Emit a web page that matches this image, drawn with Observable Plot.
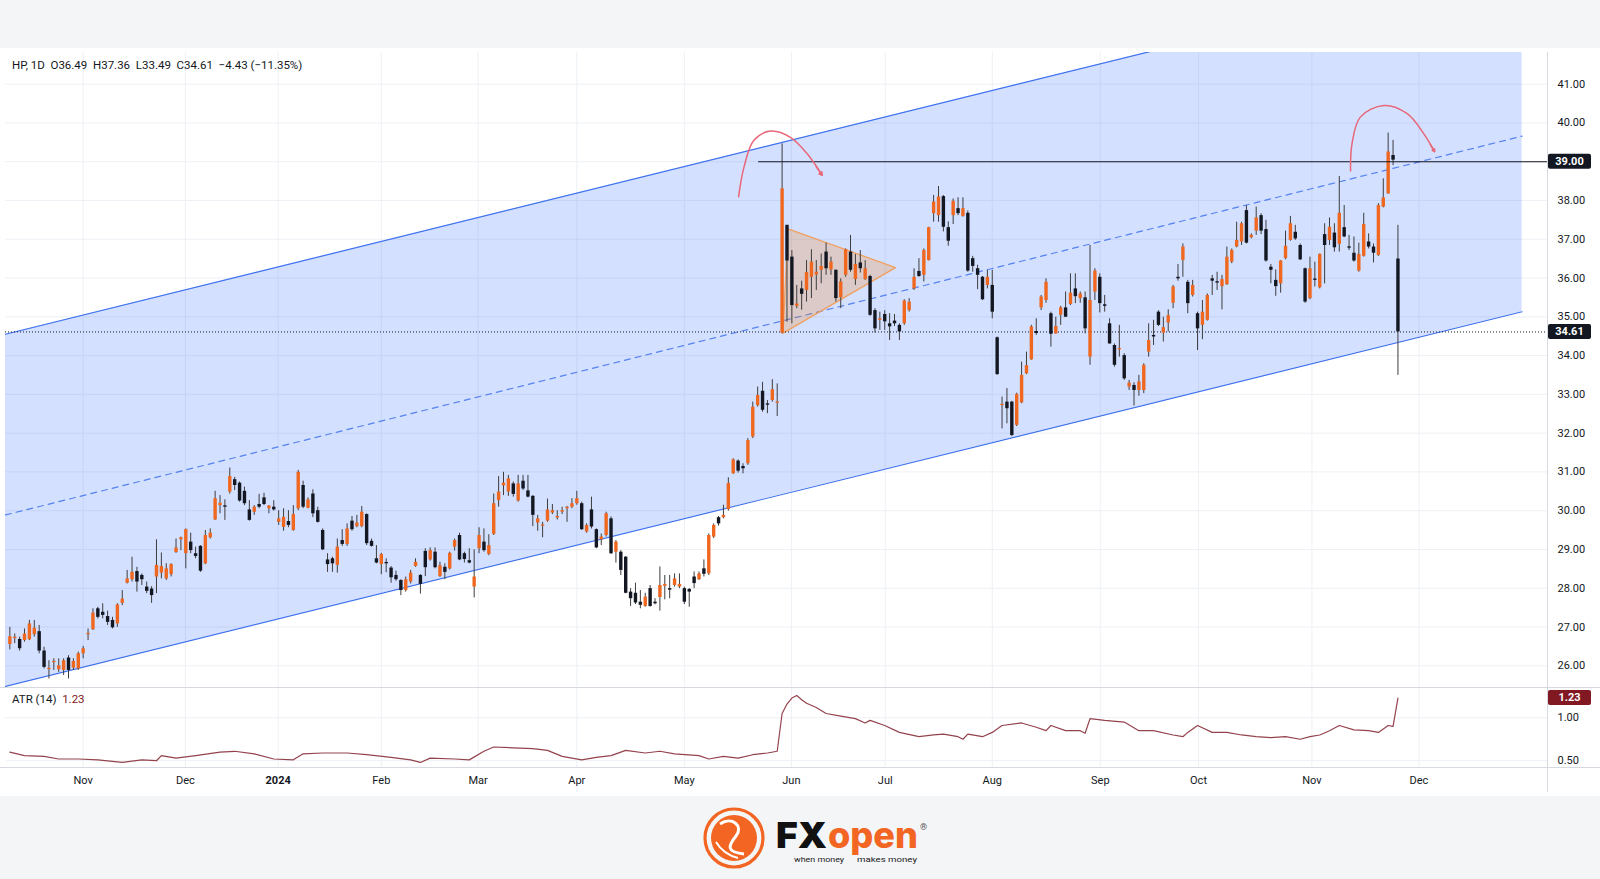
<!DOCTYPE html>
<html>
<head>
<meta charset="utf-8">
<script src="https://cdn.jsdelivr.net/npm/d3@7"></script>
<script src="https://cdn.jsdelivr.net/npm/@observablehq/plot@0.6"></script>
<style>
  html, body { margin: 0; padding: 0; }
  body { width: 1600px; height: 879px; background: #f4f5f7; font-family: Roboto, "Liberation Sans", sans-serif; overflow: hidden; position: relative; }
  #chart { position: absolute; left: 0; top: 48px; width: 1600px; height: 748px; background: #ffffff; }
  #main { position: absolute; left: 0; top: 4px; }
  #atr { position: absolute; left: 0; top: 639px; }
  .hline { position: absolute; height: 1px; background: #d6d9e0; }
  .vline { position: absolute; width: 1px; background: #d6d9e0; }
  #legend { position: absolute; left: 12px; top: 10px; font-size: 11.5px; color: #131722; white-space: pre; }
  #atrlegend { position: absolute; left: 12px; top: 644px; font-size: 11.5px; color: #131722; white-space: pre; }
  #logo { position: absolute; left: 0; top: 796px; width: 1600px; height: 83px; }
</style>
</head>
<body>
<div id="chart">
  <div id="main"></div>
  <div id="atr"></div>
  <div class="hline" style="left:0;top:639px;width:1600px"></div>
  <div class="hline" style="left:0;top:719px;width:1600px"></div>
  <div class="vline" style="left:1547px;top:4px;height:740px"></div>
  <div id="legend"></div>
  <div id="atrlegend"></div>
</div>
<svg id="logo" viewBox="0 796 1600 83"></svg>
<script>
// ---------------- DATA ----------------
const symbolInfo = "HP, 1D";
const headerValues = ["O36.49", "H37.36", "L33.49", "C34.61", "\u22124.43 (\u221211.35%)"];
const firstBar = 2; // bar index of the first candle

const open = [
26.55,26.70,26.68,26.65,26.67,26.80,26.88,26.38,25.90,26.08,
25.90,25.88,26.20,25.94,25.92,26.31,26.80,26.93,27.47,27.38,
27.27,27.17,27.08,27.61,28.13,28.22,28.43,28.33,28.03,27.98,
28.29,28.39,28.24,28.35,28.92,29.25,28.89,29.19,28.89,29.08,
28.63,29.30,29.76,30.13,30.11,30.48,30.80,30.71,30.50,30.02,
29.96,30.16,30.33,30.05,30.09,29.70,29.57,29.72,29.49,30.05,
30.65,30.06,30.43,30.00,29.49,28.73,28.76,28.59,29.23,29.13,
29.73,29.59,29.59,29.90,29.21,28.76,28.61,28.65,28.52,28.33,
28.20,27.94,28.16,28.56,28.33,28.95,28.73,28.93,28.30,28.54,
28.50,29.06,29.36,28.89,28.71,28.03,29.02,29.19,28.87,29.39,
30.26,30.64,30.48,30.69,30.25,30.76,30.51,30.37,29.68,29.60,
29.73,29.94,29.81,29.96,30.05,30.09,30.18,30.18,29.45,30.02,
29.51,29.25,29.36,29.79,28.93,28.93,28.80,27.90,27.87,27.64,
27.53,27.99,27.64,27.76,28.05,27.99,28.07,28.03,27.99,27.97,
28.29,28.22,28.50,28.37,29.32,29.82,29.82,30.03,30.95,31.28,
31.14,31.21,31.90,32.71,33.08,32.75,32.84,32.77,34.58,37.36,
36.54,35.27,35.72,35.68,36.02,36.08,36.20,36.67,36.21,36.20,
35.49,36.07,36.67,35.96,36.39,35.96,36.04,35.16,34.91,35.06,
34.82,34.89,34.78,34.82,35.16,35.72,36.17,36.07,36.45,37.66,
37.61,38.10,37.30,37.61,37.79,37.59,37.67,36.50,36.24,36.02,
35.81,35.81,34.46,32.71,32.80,32.80,32.20,32.78,33.53,33.89,
34.62,35.23,35.42,35.08,34.56,35.04,35.23,35.32,35.72,35.47,
35.49,33.96,35.64,36.02,35.31,34.82,34.26,34.15,34.00,33.19,
33.23,33.10,33.10,34.09,34.52,35.12,34.58,34.84,35.35,36.02,
36.45,35.89,35.55,35.08,34.78,34.91,35.98,35.90,35.78,35.83,
36.41,36.80,36.93,37.74,37.04,37.21,37.61,37.25,36.28,35.94,
35.85,36.50,36.97,37.18,36.84,36.24,35.47,35.96,35.75,37.12,
36.97,37.16,36.87,37.30,36.80,36.64,36.18,36.56,36.93,36.80,
36.58,37.83,38.17,39.16,36.49];

const high = [
26.99,26.82,26.74,26.95,27.17,27.17,27.04,26.48,26.13,26.18,
26.18,26.18,26.26,26.18,26.35,26.50,26.95,27.47,27.51,27.60,
27.41,27.25,27.60,27.94,28.46,28.80,28.54,28.37,28.16,28.04,
29.25,28.91,28.63,28.63,29.27,29.32,29.53,29.42,29.06,29.10,
29.49,29.53,30.50,30.39,30.28,31.10,30.86,30.74,30.61,30.26,
30.13,30.42,30.45,30.13,30.26,30.00,30.05,30.00,30.13,31.04,
30.76,30.33,30.54,30.09,29.53,28.89,28.80,29.27,29.51,29.66,
29.85,29.88,30.11,29.92,29.27,29.10,28.90,28.76,28.56,28.44,
28.22,28.29,28.46,28.76,28.35,29.02,29.04,29.04,28.67,28.63,
28.93,29.27,29.42,28.93,29.02,28.99,29.56,29.53,29.38,30.43,
30.88,30.99,30.91,30.74,30.91,30.91,30.91,30.39,29.88,29.70,
30.30,30.16,30.00,30.09,30.11,30.31,30.50,30.22,29.66,30.35,
29.53,29.40,29.96,29.84,29.23,28.97,28.82,27.99,28.13,27.94,
27.87,28.07,27.73,28.55,28.33,28.33,28.37,28.37,28.03,27.99,
28.42,28.42,28.73,29.40,29.66,29.85,30.14,30.85,31.34,31.31,
31.21,31.86,32.80,33.19,33.31,32.84,33.38,33.27,39.46,37.36,
36.71,35.81,35.92,36.45,36.73,36.45,36.62,36.90,36.54,36.21,
35.98,36.75,37.10,36.61,36.71,36.45,36.07,35.21,35.12,35.16,
35.08,35.06,34.82,35.44,35.47,36.24,36.50,36.75,37.31,38.13,
38.36,38.13,37.45,38.04,38.07,38.07,37.73,36.56,36.33,36.04,
36.20,36.20,34.48,32.93,33.15,32.82,33.03,33.83,34.09,34.78,
34.95,35.55,35.98,35.12,34.99,35.27,35.64,36.11,36.11,35.64,
35.64,36.84,36.24,36.11,35.55,34.95,34.30,34.78,34.05,33.36,
33.30,33.49,33.79,34.82,34.91,35.16,34.99,35.18,35.81,36.35,
36.88,35.94,35.94,35.12,35.42,35.59,36.07,36.15,36.07,36.80,
36.75,37.44,37.44,37.87,37.14,37.83,37.66,37.49,36.35,36.21,
36.45,37.21,37.59,37.36,36.88,36.26,36.54,36.41,36.62,37.40,
37.55,37.40,38.62,37.87,37.10,37.06,36.90,37.67,37.14,36.88,
37.92,38.56,39.74,39.55,37.36];

const low = [
26.41,26.57,26.38,26.61,26.65,26.74,26.31,25.92,25.66,25.88,
25.83,25.75,25.66,25.88,25.88,26.18,26.65,26.91,27.21,27.21,
27.04,26.95,26.99,27.55,28.11,28.16,27.90,28.07,27.86,27.61,
27.86,28.24,28.20,28.29,28.90,28.97,28.50,28.89,28.76,28.41,
28.61,29.27,29.75,29.92,29.75,30.43,30.52,30.22,30.13,29.73,
29.88,30.05,30.13,29.92,29.99,29.62,29.47,29.56,29.47,30.00,
30.05,30.05,29.82,29.68,28.97,28.41,28.41,28.39,29.08,29.08,
29.47,29.56,29.56,29.10,29.06,28.63,28.35,28.40,28.13,28.18,
27.81,27.90,28.11,28.54,27.85,28.30,28.70,28.50,28.28,28.22,
28.47,28.96,28.71,28.65,28.63,27.75,28.89,28.93,28.84,29.36,
30.09,30.39,30.37,30.35,30.22,30.52,30.33,29.59,29.47,29.30,
29.70,29.90,29.76,29.90,29.70,30.05,30.14,29.49,29.42,29.53,
29.02,29.10,29.32,28.87,28.65,28.33,27.86,27.53,27.58,27.47,
27.51,27.51,27.57,27.41,27.70,27.73,28.03,27.99,27.58,27.51,
27.99,28.20,28.29,28.33,29.28,29.60,29.79,29.99,30.94,30.97,
30.95,31.17,31.86,32.67,32.54,32.50,32.80,32.43,34.56,34.86,
34.82,35.21,35.17,35.38,35.47,35.68,35.85,36.07,36.07,35.38,
35.21,36.02,36.15,35.81,36.13,35.94,35.01,34.58,34.65,34.65,
34.39,34.75,34.39,34.78,35.12,35.68,36.02,35.90,36.44,37.44,
37.44,37.19,36.82,37.38,37.61,37.57,36.15,36.15,35.70,35.42,
35.72,34.95,33.49,32.11,32.24,31.91,32.17,32.76,33.51,33.88,
34.52,35.16,35.35,34.22,34.55,34.78,34.98,35.29,35.34,35.35,
34.56,33.75,35.42,35.10,35.12,34.30,33.70,33.96,33.36,33.10,
32.70,32.95,33.02,33.96,34.26,34.75,34.35,34.61,35.21,35.92,
36.02,35.08,35.51,34.13,34.41,34.89,35.55,35.68,35.18,35.81,
36.37,36.78,36.84,36.88,37.01,37.10,37.12,36.41,35.85,35.53,
35.61,36.47,36.95,36.97,36.45,35.35,35.44,35.77,35.72,35.85,
36.84,36.67,36.67,37.04,36.71,36.41,36.15,36.54,36.75,36.39,
36.56,37.81,38.16,38.90,33.49];

const close = [
26.75,26.73,26.44,26.82,27.08,26.97,26.38,25.96,25.93,26.10,
26.00,26.13,25.88,26.11,26.31,26.44,26.83,27.36,27.25,27.30,
27.12,26.98,27.57,27.72,28.24,28.41,28.16,28.22,27.92,27.81,
28.59,28.56,28.50,28.61,29.04,29.30,29.51,28.97,28.82,28.44,
29.36,29.42,30.31,30.19,30.09,30.88,30.65,30.25,30.18,29.75,
30.09,30.09,30.16,30.12,30.02,29.79,29.83,29.62,29.90,30.99,
30.09,30.28,29.92,29.70,28.99,28.61,28.63,29.06,29.13,29.53,
29.51,29.68,29.96,29.15,29.08,28.65,28.87,28.63,28.27,28.22,
27.94,28.22,28.39,28.67,28.10,28.53,28.97,28.53,28.58,28.41,
28.90,29.23,28.73,28.74,28.65,28.29,29.36,28.97,29.10,30.18,
30.48,30.71,30.82,30.42,30.69,30.56,30.35,29.88,29.79,29.62,
30.02,30.00,29.85,30.00,30.09,30.18,30.31,29.51,29.62,29.58,
29.04,29.32,29.92,28.89,29.19,28.46,27.87,27.73,27.62,27.56,
27.77,27.53,27.60,28.07,28.10,27.95,28.24,28.10,27.64,27.90,
28.12,28.37,28.36,29.36,29.62,29.66,29.88,30.70,31.31,31.02,
31.08,31.81,32.67,32.97,32.59,32.72,33.12,32.78,38.30,36.44,
35.29,35.33,35.58,36.14,36.41,36.15,36.30,36.24,36.41,35.47,
35.90,36.73,36.20,36.35,36.24,36.24,35.04,34.69,34.95,34.87,
34.74,34.82,34.61,35.41,35.38,36.02,36.04,36.71,37.30,37.96,
38.09,37.31,36.95,37.98,37.66,37.79,36.18,36.30,36.07,35.44,
36.02,35.12,33.51,32.74,32.63,31.94,33.00,33.49,33.74,34.74,
34.57,35.51,35.89,34.55,34.75,35.23,34.99,35.61,35.52,35.59,
34.69,35.42,36.18,35.34,35.27,34.30,33.75,34.18,33.40,33.29,
33.10,33.32,33.75,34.39,34.48,34.78,34.72,35.03,35.77,35.98,
36.80,35.34,35.81,34.69,35.12,35.55,35.92,35.87,35.96,36.54,
36.71,36.97,37.40,36.90,37.10,37.55,37.21,36.44,36.20,35.78,
36.44,36.82,37.40,37.01,36.47,35.38,36.24,35.94,36.61,36.84,
37.31,36.78,37.67,37.06,36.77,36.44,36.61,37.38,36.80,36.64,
37.87,38.07,39.25,39.04,34.61];

// ATR(14) readings: bar index and value
const atrBar = [2,5,9,12,16,20,25,29,32,33,36,40,45,48,52,56,60,62,66,71,75,80,84,86,88,93,96,99,101,105,109,112,115,119,122,125,128,132,135,138,143,145,148,151,154,157,159,160,161,162,163,164,165,167,169,172,175,177,178,181,184,188,191,193,196,197,198,201,203,205,209,212,214,215,218,221,222,223,226,230,233,236,240,242,243,245,248,251,254,257,260,263,266,268,270,272,274,277,280,282,284,285,286];
const atrValue = [0.60,0.56,0.55,0.52,0.52,0.51,0.48,0.51,0.50,0.56,0.53,0.56,0.60,0.61,0.58,0.52,0.51,0.58,0.59,0.59,0.57,0.54,0.51,0.48,0.53,0.52,0.51,0.61,0.66,0.65,0.64,0.62,0.55,0.51,0.54,0.56,0.62,0.59,0.61,0.58,0.56,0.52,0.55,0.53,0.57,0.59,0.61,1.05,1.16,1.23,1.26,1.21,1.17,1.12,1.05,1.02,0.99,0.94,0.97,0.91,0.83,0.78,0.80,0.81,0.78,0.75,0.81,0.78,0.83,0.91,0.94,0.89,0.85,0.91,0.85,0.85,0.82,0.99,0.97,0.95,0.85,0.85,0.80,0.78,0.83,0.91,0.83,0.83,0.80,0.78,0.77,0.78,0.75,0.78,0.80,0.85,0.91,0.86,0.85,0.83,0.91,0.90,1.23];
const atrLast = 1.23;

// time axis: bar position of each month label
const monthTickBar = [17, 37.9, 56.9, 78, 97.8, 118, 140, 161.9, 181.1, 203, 225.1, 245.2, 268.4, 290.3];
const monthTickLabel = ["Nov","Dec","2024","Feb","Mar","Apr","May","Jun","Jul","Aug","Sep","Oct","Nov","Dec"];
const priceTicks = [26,27,28,29,30,31,32,33,34,35,36,37,38,39,40,41];
const atrTicks = [0.5, 1.0];

// drawings (bar index, price)
const channelBar = [1.1, 311.4];
const channelLower = [25.47, 35.13];
const channelUpper = [34.55, 44.21];
const channelMid = [29.89, 39.66];
const triangleBar = [160.2, 161.2, 183.2, 160.2];
const trianglePrice = [34.58, 37.27, 36.27, 34.58];
// curved hand-drawn arrows: path points per arrow
const arrowId    = [1, 1, 1, 1, 1, 1, 1, 2, 2, 2, 2, 2, 2, 2];
const arrowBar   = [151.1, 152.2, 154.2, 157.6, 161.7, 165.1, 168.2, 276.3, 276.6, 278.3, 283.1, 287.9, 291.3, 293.5];
const arrowPrice = [38.10, 38.86, 39.55, 39.79, 39.63, 39.21, 38.65, 38.76, 39.46, 40.15, 40.45, 40.24, 39.72, 39.26];
const levelStartBar = 155.2;
const levelPrice = 39.00;
const lastClose = 34.61;

// visible ranges
const barDomain = [1.11, 316.6];
const priceDomain = [25.44, 41.817];
const atrDomain = [0.421, 1.353];

// ---------------- BUILD ----------------
const bars = open.map((o, k) => ({ i: firstBar + k, o, h: high[k], l: low[k], c: close[k] }));
const upBars = bars.filter(d => d.c >= d.o);
const downBars = bars.filter(d => d.c < d.o);
const bodyLo = d => Math.min(d.o, d.c);
const bodyHi = d => Math.max(d.o, d.c, Math.min(d.o, d.c) + 0.035);
const channel = channelBar.map((x, k) => ({ x, lo: channelLower[k], hi: channelUpper[k], mid: channelMid[k] }));
const triangle = triangleBar.map((x, k) => ({ x, y: trianglePrice[k] }));
const arrowPts = arrowBar.map((x, k) => ({ id: arrowId[k], x, y: arrowPrice[k] }));
// arrow heads: last two points of each path
const arrowHeads = d3.groups(arrowPts, d => d.id).map(([, pts]) => {
  const a = pts[pts.length - 2], b = pts[pts.length - 1];
  return { x1: a.x + (b.x - a.x) * 0.6, y1: a.y + (b.y - a.y) * 0.6, x2: b.x, y2: b.y };
});
const atrData = atrBar.map((i, k) => ({ i, v: atrValue[k] }));
const labelOf = new Map(monthTickBar.map((b, k) => [b, monthTickLabel[k]]));

const UP = "#f0671f", DOWN = "#131722", WICK = "#3d3d3d", BLUE = "#3f72ee", GRID = "#edf0f5", ARROW = "#e8677a";
const font = "Roboto, 'Liberation Sans', sans-serif";

const main = Plot.plot({
  width: 1600, height: 635,
  marginLeft: 5, marginRight: 53, marginTop: 0, marginBottom: 0,
  x: { domain: barDomain, axis: null },
  y: { domain: priceDomain, axis: null },
  style: { fontFamily: font, fontSize: "11px", color: "#131722", background: "transparent", overflow: "visible" },
  marks: [
    Plot.gridY(priceTicks, { stroke: GRID, strokeOpacity: 1 }),
    Plot.gridX(monthTickBar, { stroke: GRID, strokeOpacity: 1 }),
    Plot.areaY(channel, { x: "x", y1: "lo", y2: "hi", fill: "#2962ff", fillOpacity: 0.2, clip: true }),
    Plot.line(channel, { x: "x", y: "lo", stroke: BLUE, strokeWidth: 1.2, clip: true }),
    Plot.line(channel, { x: "x", y: "hi", stroke: BLUE, strokeWidth: 1.2, clip: true }),
    Plot.line(channel, { x: "x", y: "mid", stroke: BLUE, strokeWidth: 1.2, strokeOpacity: 0.85, strokeDasharray: "6,5", clip: true }),
    Plot.line(triangle, { x: "x", y: "y", fill: "#f57c00", fillOpacity: 0.22, stroke: "#f0a060", strokeWidth: 1.3, curve: "linear" }),
    Plot.ruleY([lastClose], { stroke: "#131722", strokeWidth: 1, strokeDasharray: "1,2" }),
    Plot.ruleX(bars, { x: "i", y1: "l", y2: "h", stroke: WICK, strokeWidth: 1 }),
    Plot.ruleX(upBars, { x: "i", y1: bodyLo, y2: bodyHi, stroke: UP, strokeWidth: 3.4 }),
    Plot.ruleX(downBars, { x: "i", y1: bodyLo, y2: bodyHi, stroke: DOWN, strokeWidth: 3.4 }),
    Plot.ruleY([levelPrice], { x1: levelStartBar, x2: barDomain[1], stroke: "#131722", strokeWidth: 1.2 }),
    Plot.line(arrowPts, { x: "x", y: "y", z: "id", curve: "catmull-rom", stroke: ARROW, strokeWidth: 1.5 }),
    Plot.arrow(arrowHeads, { x1: "x1", y1: "y1", x2: "x2", y2: "y2", stroke: ARROW, strokeWidth: 1.5, headLength: 9 }),
    Plot.axisY(priceTicks, { anchor: "right", label: null, tickSize: 0, tickPadding: 10, tickFormat: d => d.toFixed(2), fill: "#131722" })
  ]
});
document.getElementById("main").appendChild(main);

const atr = Plot.plot({
  width: 1600, height: 109,
  marginLeft: 5, marginRight: 53, marginTop: 0, marginBottom: 29,
  x: { domain: barDomain, axis: null },
  y: { domain: atrDomain, axis: null },
  style: { fontFamily: font, fontSize: "11px", color: "#131722", background: "transparent", overflow: "visible" },
  marks: [
    Plot.gridY(atrTicks, { stroke: GRID, strokeOpacity: 1 }),
    Plot.gridX(monthTickBar, { stroke: GRID, strokeOpacity: 1 }),
    Plot.line(atrData, { x: "i", y: "v", stroke: "#94434d", strokeWidth: 1.2 }),
    Plot.axisY(atrTicks, { anchor: "right", label: null, tickSize: 0, tickPadding: 10, tickFormat: d => d.toFixed(2), fill: "#131722" }),
    Plot.axisX(monthTickBar, { anchor: "bottom", label: null, tickSize: 0, tickPadding: 9, tickFormat: d => labelOf.get(d), fill: "#131722" })
  ]
});
document.getElementById("atr").appendChild(atr);
d3.select(atr).selectAll("text").filter(function () { return this.textContent === "2024"; }).attr("font-weight", "bold");

// price tags on the axis, placed with the plots' own scales
function tag(plot, value, bg) {
  const y = plot.scale("y").apply(value);
  const x0 = plot.scale("x").range[1];
  const g = d3.select(plot).append("g");
  g.append("rect").attr("x", x0 + 1).attr("y", y - 7.5).attr("width", 43).attr("height", 15).attr("rx", 2).attr("fill", bg);
  g.append("text").attr("x", x0 + 22.5).attr("y", y).attr("dy", "0.35em").attr("text-anchor", "middle")
    .attr("fill", "#fff").attr("font-size", 11).attr("font-weight", "bold").attr("font-family", font).text(value.toFixed(2));
}
tag(main, levelPrice, "#131722");
tag(main, lastClose, "#131722");
tag(atr, atrLast, "#801922");

// legends
document.getElementById("legend").innerHTML =
  symbolInfo + "  " + headerValues.join("  ");
document.getElementById("atrlegend").innerHTML =
  'ATR (14)  <span style="color:#801922">' + atrLast.toFixed(2) + '</span>';

// FXOpen logo
const logo = d3.select("#logo");
const cx = 734, cy = 838;
logo.append("circle").attr("cx", cx).attr("cy", cy).attr("r", 29).attr("fill", "none").attr("stroke", "#f26522").attr("stroke-width", 3.2);
logo.append("circle").attr("cx", cx).attr("cy", cy).attr("r", 23).attr("fill", "#f26522");
logo.append("path").attr("d", `M${cx-14},${cy-14} C${cx-2},${cy-22} ${cx+10},${cy-12} ${cx+2},${cy-2} S${cx-8},${cy+14} ${cx+10},${cy+16}`)
  .attr("fill", "none").attr("stroke", "#fff").attr("stroke-width", 3);
logo.append("path").attr("d", `M${cx-18},${cy+4} C${cx-12},${cy+14} ${cx-4},${cy+18} ${cx+4},${cy+20}`)
  .attr("fill", "none").attr("stroke", "#fff").attr("stroke-width", 2);
logo.append("text").attr("x", 776).attr("y", 848).attr("textLength", 51).attr("lengthAdjust", "spacingAndGlyphs")
  .attr("font-family", "Inter, Roboto, sans-serif").attr("font-weight", 900).attr("font-size", 36).attr("fill", "#111").text("FX");
logo.append("text").attr("x", 828).attr("y", 848).attr("textLength", 90).attr("lengthAdjust", "spacingAndGlyphs")
  .attr("font-family", "Inter, Roboto, sans-serif").attr("font-weight", 800).attr("font-size", 36).attr("fill", "#f26522").text("open");
logo.append("text").attr("x", 920).attr("y", 830).attr("font-family", font).attr("font-size", 9).attr("fill", "#555").text("\u00AE");
logo.append("text").attr("x", 794).attr("y", 862).attr("textLength", 50).attr("lengthAdjust", "spacingAndGlyphs")
  .attr("font-family", font).attr("font-size", 7.5).attr("fill", "#222").text("when money");
logo.append("text").attr("x", 857).attr("y", 862).attr("textLength", 60).attr("lengthAdjust", "spacingAndGlyphs")
  .attr("font-family", font).attr("font-size", 7.5).attr("fill", "#222").text("makes money");
</script>
</body>
</html>
